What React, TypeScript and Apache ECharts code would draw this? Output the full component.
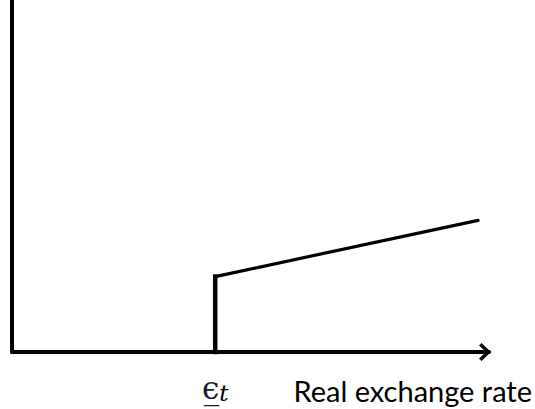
import React, { useEffect, useRef } from "react";
import * as echarts from "echarts";

// Data (axis units: x 0..100, y 0..10)
const xRange = [0, 100];
const yRange = [0, 10];
const epsilonT = 42.6; // threshold real exchange rate
const floorLevel = 2.13; // value at threshold
const endPoint = [97.7, 3.72];
const verticalSegment = [
  [epsilonT, 0],
  [epsilonT, floorLevel],
];
const slopedSegment = [
  [epsilonT, floorLevel],
  endPoint,
];
const xAxisName = "Real exchange rate";
const thresholdLabel = "{e|ϵ̲}{t|t}";

const chevron = "path://M0 9.5 L9 0 L18 9.5 L15.5 12 L9 5 L2.5 12 Z";

export default function App() {
  const ref = useRef<HTMLDivElement>(null);
  useEffect(() => {
    if (!ref.current) return;
    const chart = echarts.init(ref.current, undefined, { renderer: "svg" });
    chart.setOption({
      animation: false,
      backgroundColor: "#ffffff",
      grid: {
        left: 12,
        right: 46,
        top: -2,
        bottom: 57,
        containLabel: false,
        outerBoundsMode: "none",
      },
      xAxis: {
        type: "value",
        min: xRange[0],
        max: xRange[1],
        splitLine: { show: false },
        axisTick: { show: false },
        axisLine: {
          show: true,
          onZero: false,
          symbol: ["none", chevron],
          symbolSize: [18, 12],
          symbolOffset: [0, -4],
          lineStyle: { color: "#000", width: 4 },
        },
        axisLabel: {
          show: true,
          customValues: [epsilonT],
          formatter: () => thresholdLabel,
          margin: 20,
          rich: {
            e: {
              fontFamily: "DejaVu Serif",
              fontSize: 31,
              color: "#1a1a2e",
            },
            t: {
              fontFamily: "DejaVu Serif",
              fontStyle: "italic",
              fontSize: 23,
              color: "#000",
              padding: [9, 0, 0, 0],
            },
          },
        },
        name: xAxisName,
        nameLocation: "end",
        nameGap: 43,
        nameTextStyle: {
          align: "right",
          verticalAlign: "top",
          padding: [24, 0, 0, 0],
          fontFamily: "Lato",
          fontSize: 29,
          color: "#000",
        },
      },
      yAxis: {
        type: "value",
        min: yRange[0],
        max: yRange[1],
        splitLine: { show: false },
        axisTick: { show: false },
        axisLabel: { show: false },
        axisLine: {
          show: true,
          onZero: false,
          lineStyle: { color: "#000", width: 4 },
        },
      },
      series: [
        {
          type: "line",
          data: verticalSegment,
          symbol: "none",
          clip: false,
          lineStyle: { color: "#000", width: 4.5, cap: "square" },
        },
        {
          type: "line",
          data: slopedSegment,
          symbol: "none",
          clip: false,
          lineStyle: { color: "#000", width: 3.2, cap: "round" },
        },
      ],
    });
    return () => chart.dispose();
  }, []);
  return (
    <div
      ref={ref}
      style={{ position: "fixed", left: 0, top: 0, width: 535, height: 409 }}
    />
  );
}
